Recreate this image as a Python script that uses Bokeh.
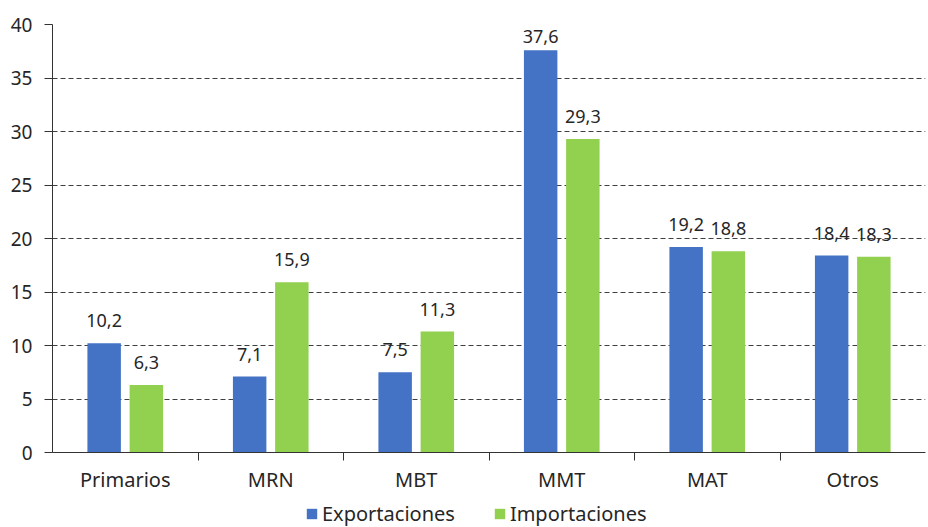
from bokeh.plotting import figure
from bokeh.layouts import column
from bokeh.models import ColumnDataSource, FixedTicker, Range1d, Legend, LegendItem, LabelSet
from bokeh.core.properties import value
from bokeh.embed import file_html
from bokeh.resources import INLINE

categories = ["Primarios", "MRN", "MBT", "MMT", "MAT", "Otros"]
exportaciones = [10.2, 7.1, 7.5, 37.6, 19.2, 18.4]
importaciones = [6.3, 15.9, 11.3, 29.3, 18.8, 18.3]
y_ticks = [0, 5, 10, 15, 20, 25, 30, 35, 40]
series_names = ["Exportaciones", "Importaciones"]

BLUE = "#4472C4"
GREEN = "#92D050"
FONT = "Noto Sans"
TXT = "#262626"

centers = [i + 0.5 for i in range(len(categories))]
off = 0.145
bw = 0.23
Y_MAX = 40


def lbl_pos(vals):
    # label sits ~2 units above the bar, kept inside the plot area
    return [min(v + 2.1, Y_MAX - 1.1) for v in vals]


def fmt(vals):
    return [f"{v:.1f}".replace(".", ",") for v in vals]


src_e = ColumnDataSource(dict(x=[c - off for c in centers], top=exportaciones,
                              ly=lbl_pos(exportaciones), lbl=fmt(exportaciones)))
src_i = ColumnDataSource(dict(x=[c + off for c in centers], top=importaciones,
                              ly=lbl_pos(importaciones), lbl=fmt(importaciones)))

p = figure(width=928, height=497, output_backend="svg", toolbar_location=None,
           x_range=Range1d(0, len(categories)), y_range=Range1d(0, Y_MAX),
           min_border_left=52, min_border_right=3, min_border_top=24, min_border_bottom=45)
p.outline_line_color = None
p.background_fill_color = "white"

p.vbar(x="x", top="top", width=bw, source=src_e, fill_color=BLUE, line_color=None)
p.vbar(x="x", top="top", width=bw, source=src_i, fill_color=GREEN, line_color=None)

for s in (src_e, src_i):
    p.add_layout(LabelSet(x="x", y="ly", text="lbl", source=s, text_align="center",
                          text_baseline="middle", text_font=value(FONT),
                          text_font_size="18px", text_color=TXT))

# grid
p.xgrid.visible = False
p.ygrid.ticker = FixedTicker(ticks=y_ticks[1:])
p.ygrid.grid_line_color = "#404040"
p.ygrid.grid_line_dash = "5 3"
p.ygrid.grid_line_width = 1

# y axis
p.yaxis.ticker = FixedTicker(ticks=y_ticks)
p.yaxis.axis_line_color = "#333333"
p.yaxis.major_tick_line_color = "#333333"
p.yaxis.major_tick_out = 8
p.yaxis.major_tick_in = 0
p.yaxis.minor_tick_line_color = None
p.yaxis.major_label_text_font = FONT
p.yaxis.major_label_text_font_size = "19px"
p.yaxis.major_label_text_color = TXT
p.yaxis.major_label_standoff = 12

# x axis: labels at category centers, ticks at category boundaries
p.xaxis.ticker = FixedTicker(ticks=centers, minor_ticks=list(range(1, len(categories))))
p.xaxis.major_label_overrides = {c: n for c, n in zip(centers, categories)}
p.xaxis.axis_line_color = "#333333"
p.xaxis.major_tick_line_color = None
p.xaxis.major_tick_out = 0
p.xaxis.minor_tick_line_color = "#333333"
p.xaxis.minor_tick_out = 8
p.xaxis.minor_tick_in = 0
p.xaxis.major_label_text_font = FONT
p.xaxis.major_label_text_font_size = "20px"
p.xaxis.major_label_text_color = TXT
p.xaxis.major_label_standoff = 5

# legend strip
pl = figure(width=928, height=30, output_backend="svg", toolbar_location=None,
            x_range=Range1d(0, 1), y_range=Range1d(0, 1),
            min_border_left=0, min_border_right=0, min_border_top=0, min_border_bottom=0)
pl.axis.visible = False
pl.grid.visible = False
pl.outline_line_color = None
# swatch renderers kept outside the visible range; only their legend glyphs show
le = pl.vbar(x=[-5], top=[-5], width=0.1, fill_color=BLUE, line_color=None)
li = pl.vbar(x=[-5], top=[-5], width=0.1, fill_color=GREEN, line_color=None)
legend = Legend(items=[LegendItem(label=series_names[0], renderers=[le]),
                       LegendItem(label=series_names[1], renderers=[li])],
                orientation="horizontal", location=(253, 0),
                label_text_font=FONT, label_text_font_size="20px", label_text_color=TXT,
                glyph_width=13, glyph_height=13, spacing=38, label_standoff=4,
                border_line_color=None, background_fill_alpha=0, padding=0, margin=0)
pl.add_layout(legend)

open("out.html", "w").write(file_html(column(p, pl, spacing=0), INLINE))
